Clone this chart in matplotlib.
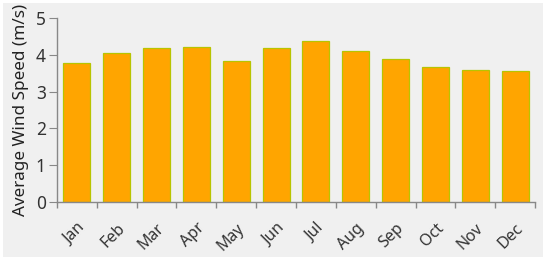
import matplotlib
matplotlib.use("Agg")
import matplotlib.pyplot as plt
import matplotlib.transforms as mtransforms
from matplotlib.patches import Rectangle
import numpy as np

months = ["Jan", "Feb", "Mar", "Apr", "May", "Jun", "Jul", "Aug", "Sep", "Oct", "Nov", "Dec"]
wind_speed = [3.77, 4.04, 4.19, 4.22, 3.84, 4.18, 4.37, 4.11, 3.88, 3.66, 3.58, 3.55]
y_ticks = [0, 1, 2, 3, 4, 5]

plt.rcParams['font.family'] = ['Noto Sans', 'DejaVu Sans']

fig = plt.figure(figsize=(5.5, 2.6), dpi=100)
fig.patch.set_facecolor("white")
bg = Rectangle((3/550, 3/260), 540/550, 254/260, transform=fig.transFigure,
               facecolor="#f0f0f0", edgecolor="none", zorder=-10)
fig.patches.append(bg)
ax = fig.add_axes([57/550, 58/260, 478/550, 184/260])
ax.set_zorder(5)
ax.set_facecolor("none")

x = np.arange(len(months))
ax.bar(x, wind_speed, width=0.68, color="#ffa500", edgecolor="#b8c400", linewidth=0.9)

ax.set_xlim(-0.5, len(months) - 0.5)
ax.set_ylim(0, 5)
ax.set_yticks(y_ticks)
ax.set_xticks(np.arange(len(months) + 1) - 0.5)
ax.set_xticklabels([])
ax.set_xticks(x, minor=True)
ax.set_xticklabels(months, minor=True, rotation=45, ha="right", va="top", rotation_mode="anchor",
                   fontsize=11.5, color="#333333")
offset = mtransforms.ScaledTranslation(4/100, 0, fig.dpi_scale_trans)
for lbl in ax.get_xticklabels(minor=True):
    lbl.set_transform(lbl.get_transform() + offset)
ax.tick_params(axis="x", which="minor", length=0, pad=13)
ax.tick_params(axis="x", which="major", length=4.5, color="#888888", width=1)
ax.tick_params(axis="y", length=6, color="#888888", labelsize=12.5, labelcolor="#333333", pad=2)

for s in ["top", "right"]:
    ax.spines[s].set_visible(False)
for s in ["left", "bottom"]:
    ax.spines[s].set_color("#888888")
    ax.spines[s].set_linewidth(1)

ax.set_ylabel("Average Wind Speed (m/s)", fontsize=12.3, color="#222222", labelpad=5)

fig.savefig("out.png", dpi=100)
